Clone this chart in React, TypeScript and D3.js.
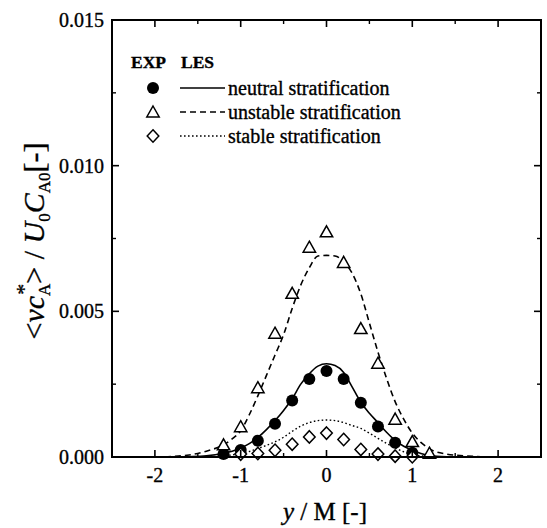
import React from "react";
import * as d3 from "d3";

// Experimental points (x = y/M)
const expX = [-1.2, -1.0, -0.8, -0.6, -0.4, -0.2, 0, 0.2, 0.4, 0.6, 0.8, 1.0, 1.2];
const neutralExp = [0.0001, 0.00024, 0.00056, 0.00114, 0.00194, 0.00268, 0.00295, 0.00268, 0.00186, 0.00105, 0.00049, 0.00015, null];
const unstableExp = [0.00042, 0.00104, 0.00238, 0.00425, 0.00562, 0.0072, 0.00773, 0.00668, 0.00441, 0.00322, 0.0013, 0.00053, 0.00013];
const stableExp = [null, 0.0001, 0.00012, 0.00023, 0.00044, 0.00069, 0.00082, 0.0006, 0.00026, 0.0001, 0.00003, 0.00001, null];

// LES profiles
const neutralLesX = [-1.8, -1.6, -1.4, -1.2, -1.1, -1.0, -0.9, -0.8, -0.7, -0.6, -0.5, -0.4, -0.3, -0.2, -0.1, 0, 0.1, 0.2, 0.3, 0.4, 0.5, 0.6, 0.7, 0.8, 0.9, 1.0, 1.1, 1.2, 1.4, 1.6];
const neutralLes = [0, 0.00001, 0.00004, 0.00013, 0.0002, 0.00031, 0.00046, 0.00067, 0.00094, 0.00125, 0.0016, 0.002, 0.0025, 0.00286, 0.00312, 0.0032, 0.00314, 0.0029, 0.0024, 0.00188, 0.0015, 0.00118, 0.00085, 0.00057, 0.00037, 0.00023, 0.00012, 0.00005, 0.00001, 0];

const unstableLesX = [-2.0, -1.8, -1.6, -1.4, -1.2, -1.1, -1.0, -0.9, -0.8, -0.7, -0.6, -0.5, -0.4, -0.3, -0.2, -0.1, 0, 0.1, 0.2, 0.3, 0.4, 0.5, 0.6, 0.7, 0.8, 0.9, 1.0, 1.1, 1.2, 1.4, 1.6, 1.8, 2.0];
const unstableLes = [0, 0.00002, 0.00007, 0.0002, 0.00042, 0.00062, 0.0009, 0.00145, 0.0021, 0.0028, 0.0035, 0.0042, 0.0051, 0.0059, 0.0065, 0.0069, 0.00692, 0.0069, 0.0067, 0.0063, 0.0056, 0.0046, 0.0036, 0.0027, 0.0019, 0.0013, 0.00082, 0.0005, 0.00028, 0.0001, 0.00004, 0.00001, 0];

const stableLesX = [-1.6, -1.4, -1.2, -1.0, -0.9, -0.8, -0.7, -0.6, -0.5, -0.4, -0.3, -0.2, -0.1, 0, 0.1, 0.2, 0.3, 0.4, 0.5, 0.6, 0.7, 0.8, 0.9, 1.0, 1.2, 1.4];
const stableLes = [0, 0.00001, 0.00004, 0.00012, 0.00019, 0.00029, 0.0004, 0.00052, 0.00068, 0.00088, 0.00106, 0.00118, 0.00125, 0.00127, 0.00125, 0.00118, 0.00108, 0.00098, 0.00082, 0.00064, 0.00047, 0.00031, 0.00018, 0.00008, 0.00002, 0];

const xMajor = [-2, -1, 0, 1, 2];
const xMinor = [-1.5, -0.5, 0.5, 1.5];
const yMajor = [0, 0.005, 0.01, 0.015];
const yMinor = [0.0025, 0.0075, 0.0125];

const legendRows = [
  { label: "neutral stratification", marker: "circle", dash: "none" },
  { label: "unstable stratification", marker: "triangle", dash: "6,4" },
  { label: "stable stratification", marker: "diamond", dash: "1.6,2.4" },
];

const FONT = '"Liberation Serif", "Times New Roman", serif';
const W = 547;
const H = 528;
const frame = { left: 112, right: 541, top: 20, bottom: 457 };

const x = d3.scaleLinear().domain([-2.5, 2.5]).range([frame.left, frame.right]);
const y = d3.scaleLinear().domain([0, 0.015]).range([frame.bottom, frame.top]);

// slightly heavy text, like a printed figure
const textStyle: React.CSSProperties = {
  fontFamily: FONT,
  stroke: "#000",
  strokeWidth: 0.35,
  fill: "#000",
};

function Marker({ kind, cx, cy }: { kind: string; cx: number; cy: number }) {
  if (kind === "circle") return <circle cx={cx} cy={cy} r={6} fill="#000" />;
  if (kind === "triangle")
    return (
      <path
        d={`M${cx},${cy - 6} L${cx + 6.2},${cy + 5} L${cx - 6.2},${cy + 5} Z`}
        fill="#fff"
        stroke="#000"
        strokeWidth={1.5}
        strokeLinejoin="miter"
      />
    );
  return (
    <path
      d={`M${cx},${cy - 6.2} L${cx + 5.8},${cy} L${cx},${cy + 6.2} L${cx - 5.8},${cy} Z`}
      fill="#fff"
      stroke="#000"
      strokeWidth={1.5}
    />
  );
}

export default function App() {
  const line = d3
    .line<[number, number]>()
    .x((d) => x(d[0]))
    .y((d) => y(d[1]))
    .curve(d3.curveMonotoneX);

  const zip = (xs: number[], ys: (number | null)[]) =>
    xs.map((v, i) => [v, ys[i]] as [number, number | null]).filter((p) => p[1] !== null) as [number, number][];

  const curves = [
    { pts: zip(neutralLesX, neutralLes), dash: "none", w: 1.6 },
    { pts: zip(unstableLesX, unstableLes), dash: "6,4", w: 1.6 },
    { pts: zip(stableLesX, stableLes), dash: "1.6,2.4", w: 1.4 },
  ];

  const points = [
    { kind: "circle", pts: zip(expX, neutralExp) },
    { kind: "triangle", pts: zip(expX, unstableExp) },
    { kind: "diamond", pts: zip(expX, stableExp) },
  ];

  const lx0 = 153;
  const lineX0 = 180;
  const lineX1 = 225;
  const rowY = [88, 112, 136];

  return (
    <svg
      width={W}
      height={H}
      viewBox={`0 0 ${W} ${H}`}
      style={{ position: "absolute", left: 0, top: 0, background: "#fff", fontFamily: FONT }}
    >
      <rect x={0} y={0} width={W} height={H} fill="#fff" />
      <defs>
        <clipPath id="plotClip">
          <rect x={frame.left} y={frame.top} width={frame.right - frame.left} height={frame.bottom - frame.top} />
        </clipPath>
      </defs>

      {/* LES curves */}
      <g clipPath="url(#plotClip)">
        {curves.map((c, i) => (
          <path
            key={i}
            d={line(c.pts) || ""}
            fill="none"
            stroke="#000"
            strokeWidth={c.w}
            strokeDasharray={c.dash}
          />
        ))}
      </g>

      {/* experimental markers */}
      {points.map((s) =>
        s.pts.map((p, j) => <Marker key={s.kind + j} kind={s.kind} cx={x(p[0])} cy={y(p[1])} />)
      )}

      {/* frame */}
      <rect
        x={frame.left}
        y={frame.top}
        width={frame.right - frame.left}
        height={frame.bottom - frame.top}
        fill="none"
        stroke="#000"
        strokeWidth={2}
      />

      {/* x ticks, bottom and top, pointing inward */}
      {xMajor.map((v) => (
        <g key={"xM" + v}>
          <line x1={x(v)} x2={x(v)} y1={frame.bottom} y2={frame.bottom - 7} stroke="#000" strokeWidth={1.6} />
          <line x1={x(v)} x2={x(v)} y1={frame.top} y2={frame.top + 7} stroke="#000" strokeWidth={1.6} />
          <text x={x(v)} y={482} textAnchor="middle" fontSize={20} style={textStyle}>
            {v}
          </text>
        </g>
      ))}
      {xMinor.map((v) => (
        <g key={"xm" + v}>
          <line x1={x(v)} x2={x(v)} y1={frame.bottom} y2={frame.bottom - 4} stroke="#000" strokeWidth={1.4} />
          <line x1={x(v)} x2={x(v)} y1={frame.top} y2={frame.top + 4} stroke="#000" strokeWidth={1.4} />
        </g>
      ))}

      {/* y ticks, left and right */}
      {yMajor.map((v) => (
        <g key={"yM" + v}>
          <line x1={frame.left} x2={frame.left + 7} y1={y(v)} y2={y(v)} stroke="#000" strokeWidth={1.6} />
          <line x1={frame.right} x2={frame.right - 7} y1={y(v)} y2={y(v)} stroke="#000" strokeWidth={1.6} />
          <text x={frame.left - 8} y={y(v)} dy="0.35em" textAnchor="end" fontSize={20} style={textStyle}>
            {d3.format(".3f")(v)}
          </text>
        </g>
      ))}
      {yMinor.map((v) => (
        <g key={"ym" + v}>
          <line x1={frame.left} x2={frame.left + 4} y1={y(v)} y2={y(v)} stroke="#000" strokeWidth={1.4} />
          <line x1={frame.right} x2={frame.right - 4} y1={y(v)} y2={y(v)} stroke="#000" strokeWidth={1.4} />
        </g>
      ))}

      {/* legend */}
      <text x={131} y={68} fontSize={17.5} fontWeight="bold" style={textStyle}>
        EXP
      </text>
      <text x={181} y={68} fontSize={17.5} fontWeight="bold" style={textStyle}>
        LES
      </text>
      {legendRows.map((r, i) => (
        <g key={r.label}>
          <Marker kind={r.marker} cx={lx0} cy={rowY[i]} />
          <line
            x1={lineX0}
            x2={lineX1}
            y1={rowY[i]}
            y2={rowY[i]}
            stroke="#000"
            strokeWidth={1.5}
            strokeDasharray={r.dash}
          />
          <text x={228} y={rowY[i] + 7} fontSize={20} style={textStyle}>
            {r.label}
          </text>
        </g>
      ))}

      {/* axis titles */}
      <text x={325} y={520} textAnchor="middle" fontSize={25} style={textStyle}>
        <tspan fontStyle="italic">y</tspan>
        <tspan> / M [-]</tspan>
      </text>

      <text transform="translate(44,241) rotate(-90)" textAnchor="middle" fontSize={30} style={textStyle}>
        <tspan>&lt;</tspan>
        <tspan fontStyle="italic">vc</tspan>
        <tspan fontSize={17} dy={6}>A</tspan>
        <tspan fontSize={22} dx={-11} dy={-19}>*</tspan>
        <tspan dy={13}>&gt; / </tspan>
        <tspan fontStyle="italic">U</tspan>
        <tspan fontSize={17} dy={6}>0</tspan>
        <tspan fontStyle="italic" dy={-6}>C</tspan>
        <tspan fontSize={17} dy={6}>A0</tspan>
        <tspan dy={-6}>[-]</tspan>
      </text>
    </svg>
  );
}
